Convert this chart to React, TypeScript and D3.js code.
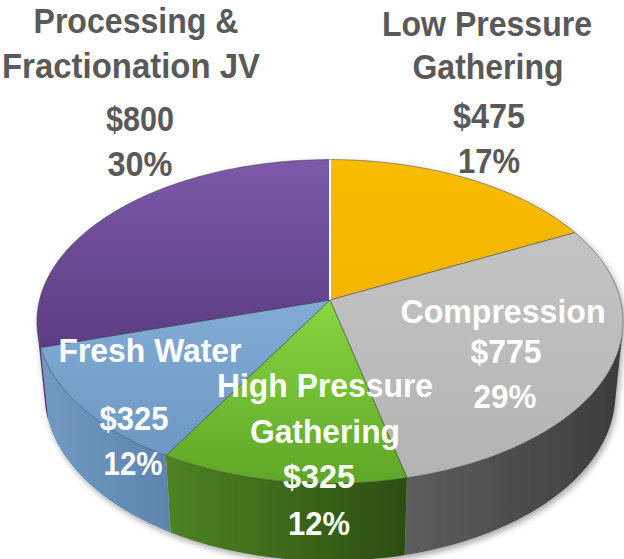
import React from 'react';
import * as d3 from 'd3';

// slices clockwise from 12 o'clock
const segmentNames = [
    ['Low Pressure', 'Gathering'],
    ['Compression'],
    ['High Pressure', 'Gathering'],
    ['Fresh Water'],
    ['Processing &', 'Fractionation JV'],
];
const amounts = [475, 775, 325, 325, 800];
const shares = ['17%', '29%', '12%', '12%', '30%'];

const W = 624;
const H = 559;

// perspective camera for the tilted pie
const cx = 330;
const cy = 300;
const F = 1830;
const D = 6.3;
const tilt = (33.2 * Math.PI) / 180;
const depth = 0.305;
const sa = Math.sin(tilt);
const ca = Math.cos(tilt);

const project = (theta: number, r: number, z: number): [number, number] => {
    const X = r * Math.sin(theta);
    const Y = -r * Math.cos(theta);
    const dist = D - Y * ca - z * sa;
    return [cx + (F * X) / dist, cy + (F * (Y * sa - z * ca)) / dist];
};

const topGrads = [
    ['#f8bc00', '#f3b500'],
    ['#c4c4c4', '#b3b3b3'],
    ['#88d640', '#5fa628'],
    ['#82acd5', '#6d98c3'],
    ['#7d59a9', '#5b3d83'],
];
const sideGrads = [
    ['#c89600', '#a07800'],
    ['#5e5e5e', '#3c3c3c'],
    ['#4f8324', '#2c4d11'],
    ['#7199c2', '#5d85ae'],
    ['#5a3c80', '#4a3070'],
];

// label placement: [centre x, baseline y, width]
const labelLayout = [
    { fill: '#595959', size: 35, lines: [[487, 36, 210], [488, 79, 151], [489, 128, 72], [489, 173, 62]] },
    { fill: '#ffffff', size: 33, lines: [[503, 323, 205], [506, 363, 71], [505, 408, 63]] },
    { fill: '#ffffff', size: 33, lines: [[325, 397, 216], [325, 443, 150], [319, 488, 72], [319, 535, 62]] },
    { fill: '#ffffff', size: 33, lines: [[150, 362, 183], [134, 430, 69], [133, 475, 59]] },
    { fill: '#595959', size: 35, lines: [[136, 33, 205], [131, 78, 258], [140, 131, 68], [140, 176, 65]] },
];

const App = () => {
    const arcs = d3.pie<number>().sort(null).value((d) => d)(amounts);
    const closed = d3.line<[number, number]>().curve(d3.curveLinearClosed);

    // part of the rim that faces the camera
    const vis0 = Math.acos(-1 / (D * ca));
    const vis1 = 2 * Math.PI - vis0;

    const arcPts = (a0: number, a1: number, z: number) => {
        const n = Math.max(2, Math.ceil((a1 - a0) / (Math.PI / 180)));
        return d3.range(n + 1).map((i) => project(a0 + ((a1 - a0) * i) / n, 1, z));
    };

    const walls = arcs.map((a, i) => {
        const a0 = Math.max(a.startAngle, vis0);
        const a1 = Math.min(a.endAngle, vis1);
        if (a1 <= a0) return null;
        const pts = arcPts(a0, a1, 0).concat(arcPts(a0, a1, -depth).reverse());
        return <path key={'w' + i} d={closed(pts) || ''} fill={`url(#side${i})`} />;
    });

    const tops = arcs.map((a, i) => {
        const pts = [project(0, 0, 0), ...arcPts(a.startAngle, a.endAngle, 0)];
        return (
            <path
                key={'t' + i}
                d={closed(pts) || ''}
                fill={`url(#top${i})`}
                stroke="rgba(50,50,50,0.45)"
                strokeWidth={1}
                strokeLinejoin="round"
            />
        );
    });

    const c0 = project(0, 0, 0);
    const e0 = project(arcs[0].startAngle, 1, 0);

    return (
        <svg width={W} height={H} style={{ position: 'absolute', left: 0, top: 0, background: '#fff' }}>
            <defs>
                {topGrads.map((g, i) => (
                    <linearGradient key={'tg' + i} id={`top${i}`} x1="0" y1="0" x2="0" y2="1">
                        <stop offset="0" stopColor={g[0]} />
                        <stop offset="1" stopColor={g[1]} />
                    </linearGradient>
                ))}
                {sideGrads.map((g, i) => (
                    <linearGradient key={'sg' + i} id={`side${i}`} x1="0" y1="0" x2="1" y2="0">
                        <stop offset="0" stopColor={g[0]} />
                        <stop offset="1" stopColor={g[1]} />
                    </linearGradient>
                ))}
                <filter id="pieShadow" x="-10%" y="-10%" width="120%" height="120%">
                    <feDropShadow dx="2" dy="3" stdDeviation="3" floodColor="#000" floodOpacity="0.35" />
                </filter>
            </defs>
            <g filter="url(#pieShadow)">
                {walls}
                {tops}
            </g>
            <line x1={c0[0]} y1={c0[1]} x2={e0[0]} y2={e0[1]} stroke="#ffffff" strokeWidth={2} />
            {labelLayout.map((lab, i) => {
                const texts = [...segmentNames[i], `$${amounts[i]}`, shares[i]];
                return (
                    <g key={'l' + i} fill={lab.fill} fontFamily="'Liberation Sans', Arial, sans-serif" fontWeight="bold" fontSize={lab.size}>
                        {texts.map((t, j) => (
                            <text
                                key={j}
                                x={lab.lines[j][0] - lab.lines[j][2] / 2}
                                y={lab.lines[j][1]}
                                textLength={lab.lines[j][2]}
                                lengthAdjust="spacingAndGlyphs"
                            >
                                {t}
                            </text>
                        ))}
                    </g>
                );
            })}
        </svg>
    );
};

export default App;
